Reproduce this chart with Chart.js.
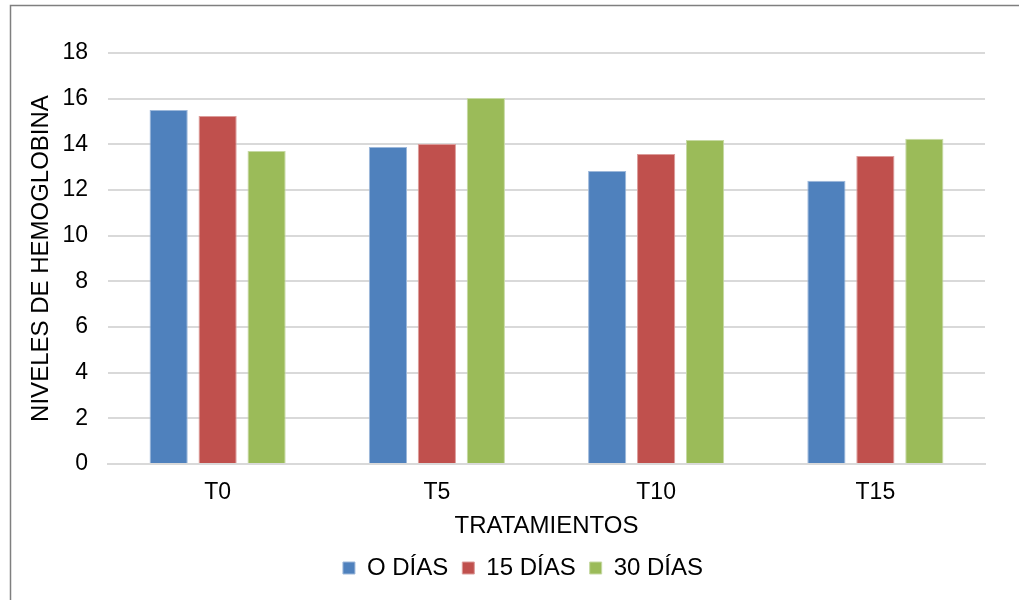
<!DOCTYPE html>
<html>
<head>
<meta charset="utf-8">
<script src="https://cdn.jsdelivr.net/npm/chart.js@4.4.0/dist/chart.umd.min.js"></script>
<style>
  body{margin:0;background:#fff;}
  #wrap{position:relative;width:1019px;height:600px;}
</style>
</head>
<body>
<div id="wrap"><canvas id="chart" width="1019" height="600"></canvas></div>
<script>
// data
const categories = ['T0', 'T5', 'T10', 'T15'];
const dias0  = [15.5, 13.88, 12.83, 12.4];
const dias15 = [15.24, 14.02, 13.58, 13.49];
const dias30 = [13.71, 16.03, 14.19, 14.24];
const seriesNames = ['O DÍAS', '15 DÍAS', '30 DÍAS'];
const yTicks = [0, 2, 4, 6, 8, 10, 12, 14, 16, 18];

const fills = ['#4F81BD', '#C0504D', '#9BBB59'];
const edges = ['#9db8da', '#dc9c9a', '#c6d9a3'];
const font = 'Arial, "Liberation Sans", sans-serif';

// frame line at top and left, like the cropped chart border
const frame = {
  id:'frame',
  afterDraw(chart){
    const c = chart.ctx;
    c.save();
    c.strokeStyle = '#7f7f7f';
    c.lineWidth = 1.5;
    c.beginPath();
    c.moveTo(10.5, 700); c.lineTo(10.5, 5.5); c.lineTo(1100, 5.5);
    c.stroke();
    c.restore();
  }
};

const ctx = document.getElementById('chart').getContext('2d');
new Chart(ctx, {
  type:'bar',
  data:{
    labels: categories,
    datasets:[dias0, dias15, dias30].map((d,i)=>({
      label: seriesNames[i], data: d,
      backgroundColor: fills[i], borderColor: edges[i], borderWidth: 1,
      categoryPercentage: 0.67, barPercentage: 0.78
    }))
  },
  options:{
    responsive:false, animation:false,
    layout:{padding:{top:53, right:0, left:27, bottom:10}},
    plugins:{
      tooltip:{enabled:false},
      legend:{
        position:'bottom',
        labels:{color:'#000', font:{family:font, size:24}, boxWidth:12, boxHeight:12, padding:14}
      }
    },
    scales:{
      x:{
        grid:{display:false},
        border:{color:'#d9d9d9', width:2},
        ticks:{color:'#000', font:{family:font, size:23}, padding:7},
        title:{display:true, text:'TRATAMIENTOS', color:'#000', font:{family:font, size:24}, padding:{top:0, bottom:1}},
        afterFit(scale){
          const lg = scale.chart.legend;
          const lh = lg ? lg.height : 0;
          scale.height = 600 - 10 - lh - 464;
        }
      },
      y:{
        min:0, max:18,
        afterBuildTicks(scale){ scale.ticks = yTicks.map(v=>({value:v})); },
        grid:{color:'#d9d9d9', lineWidth:2, drawTicks:false},
        border:{display:false},
        ticks:{color:'#000', font:{family:font, size:23}, padding:20},
        title:{display:true, text:'NIVELES DE HEMOGLOBINA', color:'#000', font:{family:font, size:24}, padding:{top:0, bottom:0}},
        afterFit(scale){ scale.width = 81; }
      },
      // empty right margin so the legend sits where it does in the picture
      yRight:{
        position:'right', min:0, max:18,
        grid:{display:false}, border:{display:false},
        ticks:{display:false},
        afterFit(scale){ scale.width = 34; }
      }
    }
  },
  plugins:[frame]
});
</script>
</body>
</html>
